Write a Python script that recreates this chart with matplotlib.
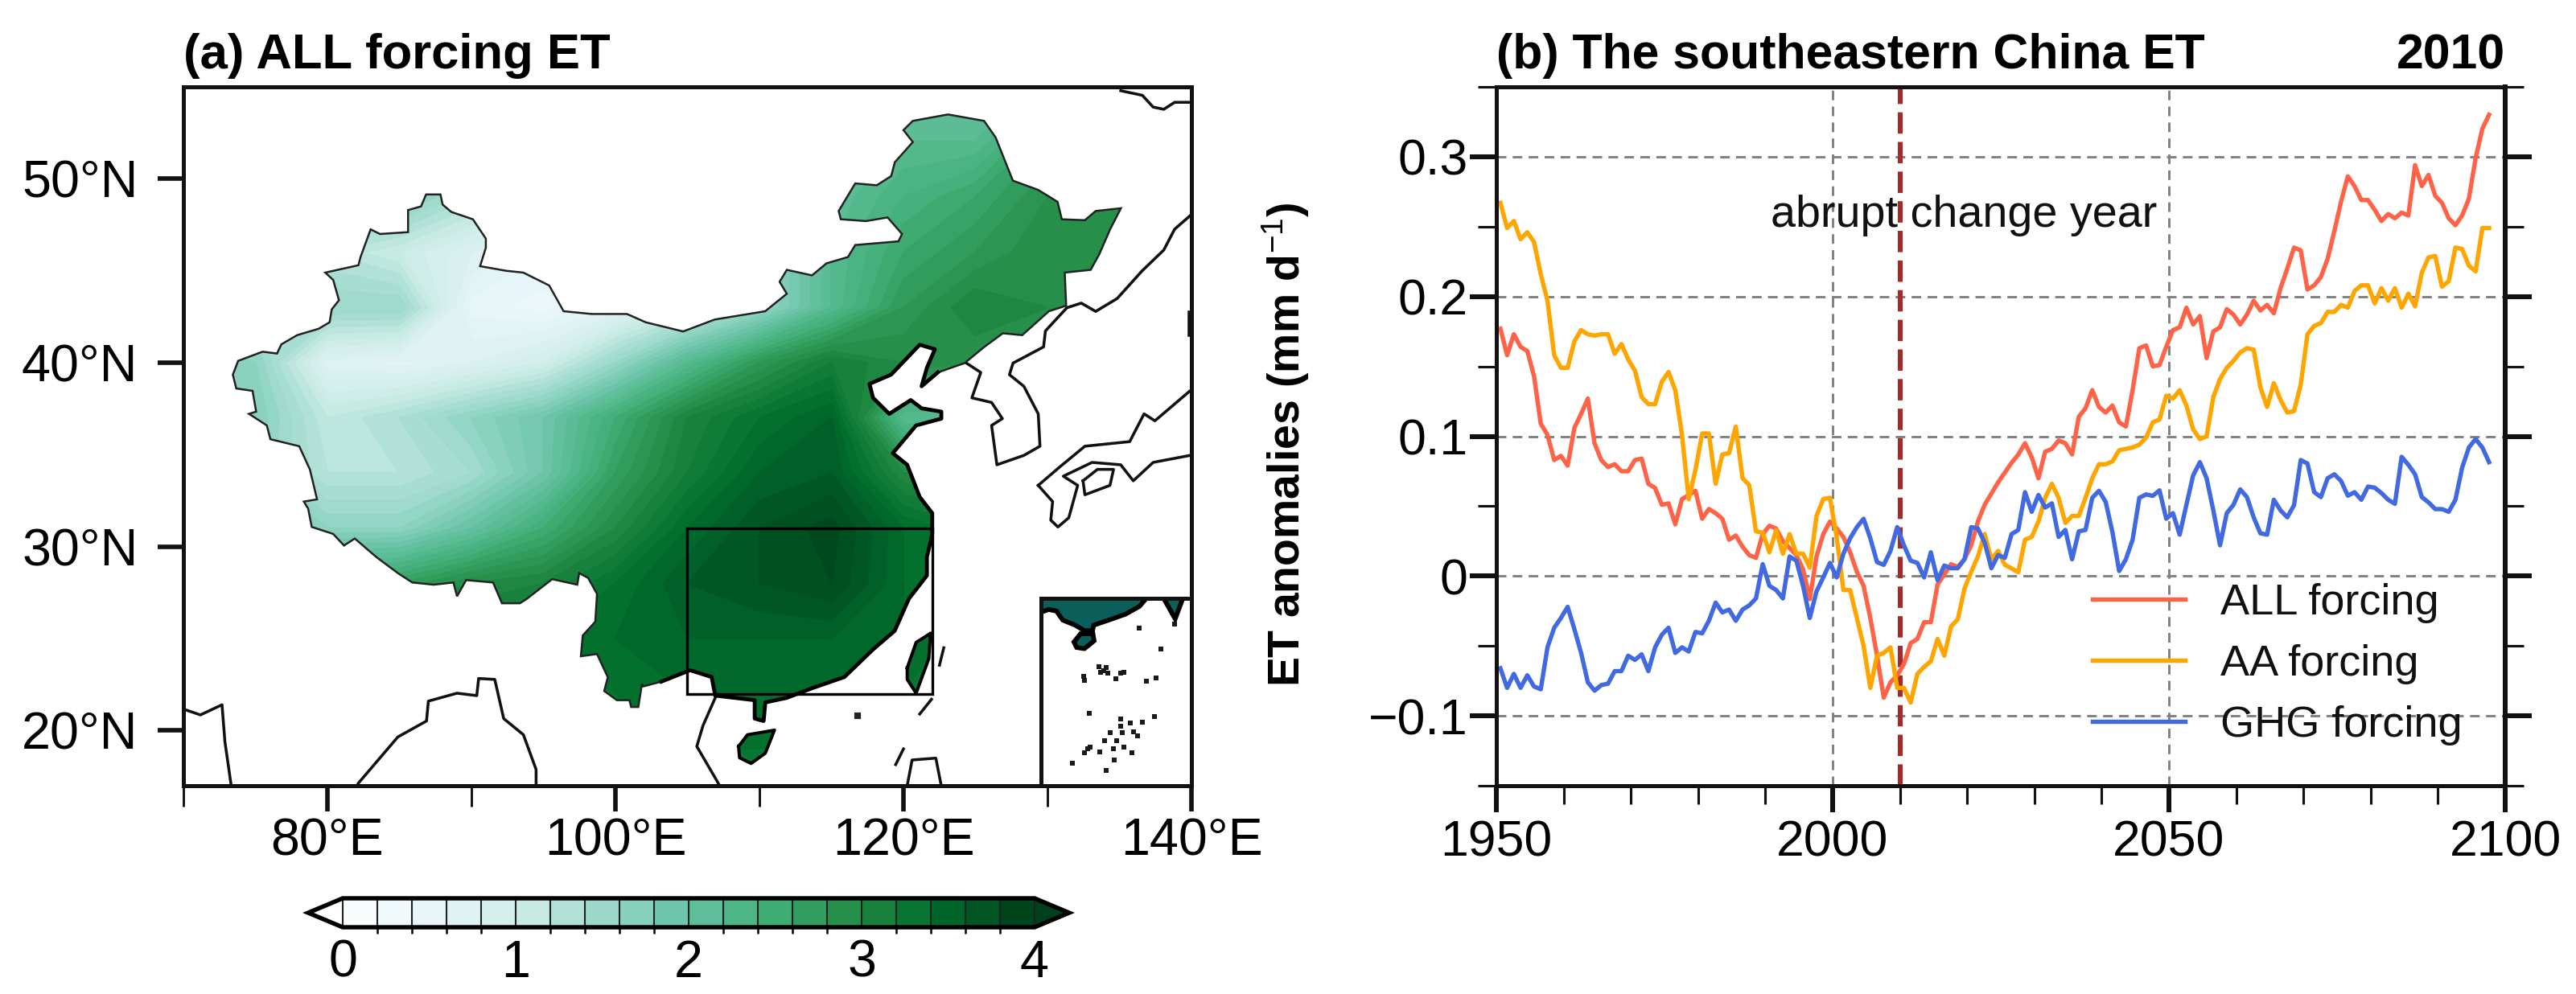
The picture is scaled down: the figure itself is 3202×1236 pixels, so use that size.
import numpy as np
import matplotlib
matplotlib.use('Agg')
import matplotlib.pyplot as plt
from matplotlib.cm import ScalarMappable
from matplotlib.colors import ListedColormap, BoundaryNorm, Normalize
from matplotlib.path import Path
from matplotlib.patches import PathPatch, Rectangle, Polygon
from matplotlib.ticker import MultipleLocator

plt.rcParams['font.family'] = ['Liberation Sans', 'DejaVu Sans']
plt.rcParams['mathtext.fontset'] = 'custom'
plt.rcParams['mathtext.rm'] = 'Liberation Sans'
plt.rcParams['mathtext.it'] = 'Liberation Sans'
plt.rcParams['mathtext.bf'] = 'Liberation Sans:bold'

# ---------- panel (b) data ----------
YEAR_START = 1950.6
ALL_FORCING = [.177,.158,.173,.164,.161,.143,.109,.101,.083,.086,.079,.106,.116,.127,.095,.083,.078,.080,.075,.075,
 .083,.084,.066,.063,.051,.052,.037,.055,.058,.061,.041,.048,.045,.041,.026,.029,.021,.015,.013,.030,
 .036,.034,.025,.020,.015,.005,-.0165,.014,.030,.039,.034,.028,.017,.003,-.007,-.030,-.057,-.087,-.076,-.071,
 -.063,-.048,-.045,-.033,-.033,-.006,.001,.0085,.0065,.012,.022,.039,.051,.059,.067,.074,.081,.087,.095,.085,
 .070,.089,.091,.097,.095,.087,.114,.120,.133,.121,.117,.122,.110,.107,.133,.163,.165,.150,.151,.164,
 .176,.178,.192,.180,.186,.156,.175,.178,.191,.187,.180,.187,.197,.190,.194,.188,.206,.220,.235,.233,
 .205,.208,.214,.227,.247,.268,.286,.279,.269,.269,.262,.254,.259,.256,.260,.258,.294,.279,.287,.272,
 .267,.256,.251,.258,.270,.299,.320,.330]
AA_FORCING = [.267,.249,.254,.241,.246,.239,.216,.197,.158,.149,.149,.168,.176,.173,.172,.173,.173,.159,.166,.155,
 .147,.128,.123,.123,.139,.146,.133,.101,.055,.076,.102,.102,.066,.087,.088,.107,.070,.065,.032,.031,
 .017,.033,.016,.030,.016,.016,.006,.043,.055,.056,.028,-.010,-.010,-.030,-.050,-.080,-.057,-.055,-.051,-.080,
 -.080,-.0905,-.070,-.065,-.061,-.045,-.057,-.036,-.031,-.009,.003,.014,.030,.012,.018,.008,.0055,.0027,.026,.028,
 .039,.056,.066,.056,.038,.043,.043,.056,.070,.080,.080,.082,.090,.091,.092,.094,.099,.110,.112,.129,
 .127,.133,.122,.105,.098,.100,.128,.141,.149,.154,.160,.163,.162,.135,.121,.138,.126,.117,.118,.137,
 .173,.179,.181,.189,.189,.194,.192,.204,.208,.208,.195,.206,.197,.206,.192,.202,.193,.217,.228,.229,
 .207,.211,.235,.234,.222,.218,.249,.249]
GHG_FORCING = [-.066,-.080,-.070,-.080,-.071,-.079,-.081,-.051,-.037,-.030,-.022,-.038,-.055,-.076,-.082,-.078,-.077,-.068,-.068,-.057,
 -.060,-.056,-.068,-.051,-.042,-.037,-.055,-.051,-.054,-.040,-.041,-.032,-.019,-.026,-.024,-.032,-.024,-.021,-.016,.0085,
 -.007,-.010,-.016,.014,.011,-.007,-.030,-.011,-.001,.0094,-.001,.016,.027,.035,.041,.027,.010,.008,.018,.035,
 .022,.011,.0094,-.001,.017,-.003,.0075,.0056,.0056,.012,.035,.034,.024,.0056,.015,.013,.030,.033,.060,.046,
 .058,.049,.052,.028,.033,.012,.032,.033,.056,.061,.053,.0315,.0036,.012,.026,.056,.0584,.0574,.0613,.041,
 .045,.0296,.051,.072,.0815,.070,.047,.022,.045,.051,.062,.0565,.042,.0306,.0296,.0546,.047,.042,.0507,.083,
 .0805,.060,.0565,.070,.0728,.068,.0575,.060,.0546,.064,.0632,.0594,.0546,.0517,.0853,.0796,.0728,.0565,.0527,.0479,
 .0479,.046,.0546,.0776,.092,.098,.092,.0815]
SERIES_LABELS = ['ALL forcing', 'AA forcing', 'GHG forcing']
SERIES_COLORS = ['#FF6347', '#FFA500', '#4169E1']
ABRUPT_YEAR = 2010
X_MAJOR = [1950, 2000, 2050, 2100]
Y_MAJOR = [-0.1, 0, 0.1, 0.2, 0.3]
Y_LABELS = ['\u22120.1', '0', '0.1', '0.2', '0.3']

# ---------- panel (a) data ----------
GRID_LON = [70,75,80,85,90,95,100,105,110,115,120,125,130,135]
GRID_LAT = [55,52,49,46,43,40,37,34,31,28,25,22,19,16]
ET_FIELD = [
 [1.8,1.8,1.8,1.9,2.0,1.8,1.6,1.8,2.0,2.1,2.1,2.0,2.3,2.6],
 [1.8,1.8,1.8,2.0,2.0,1.8,1.6,1.8,2.0,2.1,2.2,2.2,2.7,2.9],
 [1.7,1.7,1.6,1.7,1.3,1.0,1.2,1.6,1.9,2.1,2.4,2.6,2.9,3.0],
 [1.5,1.4,1.2,1.0,0.7,0.5,0.6,1.0,1.5,2.2,2.6,2.8,3.0,3.0],
 [1.5,1.4,1.5,1.5,0.45,0.35,0.6,1.0,1.5,2.2,2.8,3.1,3.0,2.9],
 [1.7,1.6,0.65,0.55,0.7,0.9,1.5,2.2,2.8,3.2,3.0,2.9,2.9,2.9],
 [1.8,1.7,1.1,1.3,1.6,1.9,2.5,3.1,3.4,3.6,2.2,2.2,2.2,2.2],
 [1.7,1.6,1.2,1.2,1.4,1.9,2.7,3.2,3.6,3.7,3.0,3.0,3.0,3.0],
 [2.0,1.9,1.6,1.6,2.0,2.5,3.0,3.5,3.8,3.95,3.5,3.3,3.3,3.3],
 [2.5,2.5,2.6,2.7,3.0,3.1,3.4,3.7,3.8,3.9,3.5,3.3,3.3,3.3],
 [3.3,3.3,3.3,3.3,3.3,3.4,3.5,3.6,3.6,3.6,3.5,3.3,3.3,3.3],
 [3.4,3.4,3.4,3.4,3.4,3.4,3.4,3.5,3.5,3.5,3.4,3.3,3.3,3.3],
 [3.4,3.4,3.4,3.4,3.4,3.4,3.4,3.4,3.4,3.4,3.3,3.3,3.3,3.3],
 [3.4,3.4,3.4,3.4,3.4,3.4,3.4,3.4,3.4,3.4,3.3,3.3,3.3,3.3],
]
ET_LEVELS = [round(0.2 * i, 1) for i in range(21)]
MAP_LEVELS = [round(0.1 * i, 1) for i in range(41)]
CBAR_TICKS = [0, 1, 2, 3, 4]

CHINA = [(73.43,39.35),(73.8,40.1),(75.5,40.6),(76.5,40.5),(76.8,41.0),(77.9,41.5),(79.4,41.85),(80.15,42.2),(80.3,42.9),(80.8,43.4),
 (80.4,44.5),(79.85,44.9),(82.15,45.3),(82.3,45.75),(83.0,47.25),(83.65,47.0),(85.6,47.1),(85.6,48.3),(86.5,48.5),(86.85,49.15),
 (87.85,49.15),(88.0,48.6),(88.6,48.2),(90.1,47.8),(91.0,46.75),(91.0,46.25),(90.6,45.25),(92.4,45.0),(93.6,44.9),(95.4,44.2),
 (96.4,42.8),(98.35,42.65),(100.8,42.65),(102.1,42.2),(104.7,41.7),(106.9,42.35),(110.4,42.8),(111.9,43.75),(111.4,44.4),(111.9,45.05),
 (113.65,44.75),(114.65,45.4),(116.15,45.75),(116.65,46.4),(119.65,46.6),(119.9,47.0),(118.9,47.9),(117.4,47.7),(115.65,47.8),(115.5,48.25),
 (116.65,49.75),(118.15,49.65),(119.15,50.15),(119.4,50.9),(120.65,52.0),(120.0,52.65),(120.65,53.15),(123.1,53.5),(125.6,53.15),(126.4,52.25),
 (127.6,49.9),(129.35,49.4),(130.7,48.75),(131.0,47.8),(132.6,47.75),(133.35,48.25),(135.1,48.4),(134.35,47.25),(133.6,45.9),(133.0,45.05),
 (131.2,44.9),(131.3,43.1),(130.1,42.8),(128.25,41.5),(126.9,41.6),(125.6,40.85),(124.25,39.98),
 (122.38,39.47),(121.26,38.72),(121.63,39.73),(122.18,40.73),(121.13,40.98),(119.14,39.35),(117.64,38.85),(117.89,38.09),(119.01,37.22),(120.51,37.97),
 (121.26,37.52),(122.63,37.34),(122.63,36.96),(120.88,36.59),(119.26,35.08),(120.26,34.45),(121.13,32.7),(122.0,31.82),(122.0,30.69),(121.63,29.43),
 (121.63,28.43),(120.38,27.17),(119.39,25.42),(117.89,24.41),(115.9,22.91),(113.65,22.3),(111.91,21.78),(110.41,21.53),(110.29,20.52),(109.67,20.65),
 (109.67,21.65),(106.93,21.9),(106.68,22.91),(105.18,23.28),(103.19,22.66),(101.94,22.4),
 (101.84,22.53),(101.59,21.28),(101.09,21.28),(100.97,21.65),(100.1,21.65),(99.22,22.15),(99.47,22.9),(98.72,24.16),(97.6,24.04),(97.73,25.17),
 (98.6,25.92),(98.72,27.43),(98.1,28.3),(97.48,28.56),(97.35,27.93),(95.61,28.23),(93.86,27.17),(93.37,26.92),(92.12,26.92),(91.5,28.05),
 (89.63,28.18),(89.0,27.3),(88.75,28.05),(87.38,27.93),(85.89,28.05),(84.89,28.56),(83.4,29.43),(81.9,30.44),(81.15,30.06),(80.4,30.69),
 (78.91,31.07),(78.66,32.07),(78.36,32.45),(79.28,32.57),(78.78,34.2),(78.04,35.46),(76.04,35.84),(75.79,36.59),(74.55,37.22),(75.05,37.34),
 (74.8,38.47),(73.67,38.6)]
HAINAN = [(108.55,19.14),(109.17,19.77),(111.04,20.02),(110.41,18.77),(109.42,18.21),(108.62,18.52)]
TAIWAN = [(120.26,23.41),(120.88,24.79),(121.88,25.29),(121.76,23.91),(120.88,22.03),(120.26,22.78)]
# index range of CHINA that is the heavy-drawn Bohai and southern coast
COAST_FROM, COAST_TO = 77, 112

OUTLINES = [
 [(124.37,39.98),(125.37,39.47),(124.75,38.09),(126.12,37.84),(126.87,36.96),(126.12,36.59),(126.49,34.45),(128.36,34.96),(129.48,35.46),(129.36,37.22),
  (128.36,38.72),(127.36,39.35),(127.61,39.98),(129.73,40.86),(129.86,41.73),(131.35,42.99),(132.35,43.24),(133.35,42.79),(134.84,43.49),(136.58,45.0),
  (138.08,46.13),(138.83,47.26),(140.5,48.4)],
 [(129.36,33.33),(130.85,34.33),(132.6,35.46),(135.71,35.71),(136.71,37.22),(137.46,36.84),(139.9,38.47),(141,37.9),(141,34.9),(139.9,34.96),
  (137.34,34.58),(135.96,33.58),(135.09,34.45),(133.1,34.58),(131.1,33.83),(132.1,33.33),(131.48,31.57),(130.73,31.07),(130.23,31.44),(130.36,32.45),(129.36,33.33)],
 [(132.47,33.58),(133.47,34.2),(134.59,34.2),(134.34,33.33),(132.6,32.82),(132.47,33.58)],
 [(135.09,54.79),(136.59,54.54),(137.34,53.9),(138.08,53.78),(138.83,54.16),(140.5,54.16)],
 [(139.83,42.74),(139.83,41.48)],
 [(106.93,21.78),(106.08,20.27),(105.65,19.14),(106.58,17.89),(107.05,17.26),(107.3,16.9)],
 [(69.5,21.2),(70.06,21.15),(71.18,20.85),(72.68,21.4),(72.88,19.4),(73.3,17.1),(73.3,16.8)],
 [(82.0,16.9),(82.15,17.14),(84.89,19.65),(86.88,20.52),(87.01,21.6),(89.0,22.03),(90.37,21.9),(90.5,22.83),(91.62,22.78),(92.24,20.65),
  (93.61,19.77),(94.49,17.88),(94.49,16.9)],
 [(120.2,16.8),(120.26,17.0),(120.6,18.4),(122.25,18.5),(122.6,17.1),(122.7,16.8)],
 [(122.5,23.55),(122.8,24.5)],
 [(121.13,20.9),(121.95,21.7)],
 [(119.46,18.15),(120.0,19.0)],
]
REGION_BOX = (105, 22, 17, 9)
MAP_XTICKS = [80, 100, 120, 140]
MAP_XLABELS = ['80°E', '100°E', '120°E', '140°E']
MAP_XMINOR = [70, 90, 110, 130]
MAP_YTICKS = [20, 30, 40, 50]
MAP_YLABELS = ['20°N', '30°N', '40°N', '50°N']

INSET_LAND = [(104.2,25.05),(104.2,23.25),(105.2,23.6),(106.2,23.4),(107.0,22.25),(108.6,21.6),(109.8,20.9),(110.85,20.9),(111.0,21.6),(113.1,22.3),
 (115.1,23.0),(116.9,24.0),(117.8,25.05)]
INSET_TAIWAN = [(120.0,25.05),(121.5,22.4),(122.5,25.05)]
INSET_HAINAN = [(108.45,19.45),(109.3,20.5),(110.9,20.5),(111.05,19.6),(109.8,18.6),(108.8,18.75)]
ISLET_LON = [116.9,119.7,121.4,111.7,112.3,111.9,112.6,112.8,109.7,109.8,113.8,114.5,114.9,117.8,119.0,110.4,118.8,114.5,114.5,114.7,
 115.7,116.1,116.6,117.3,113.1,112.4,114.0,113.5,114.9,115.9,110.2,110.5,109.8,111.8,108.3,112.6,113.6]
ISLET_LAT = [21.2,18.6,21.7,16.3,15.8,15.6,16.2,15.5,15.1,14.6,14.8,15.5,15.6,14.4,14.9,10.3,9.9,9.6,8.7,7.9,
 9.1,8.0,7.5,9.2,7.9,6.8,6.8,5.8,6.0,5.3,5.8,6.0,5.3,5.4,4.0,3.0,4.4]
MAIN_ISLET = (116.8, 20.8)

W, H = 3203, 1236
fig = plt.figure(figsize=(W / 300, H / 300), dpi=300)
def px_axes(x0, y0, x1, y1):
    return fig.add_axes([x0 / W, 1 - y1 / H, (x1 - x0) / W, (y1 - y0) / H])

INK = '#111111'
# ---------- map panel ----------
ax = px_axes(228, 108, 1481, 977)
ax.set_xlim(70, 140); ax.set_ylim(17, 55)
base = plt.get_cmap('BuGn')
cf = ax.contourf(GRID_LON, GRID_LAT, np.array(ET_FIELD), levels=MAP_LEVELS, cmap=base, norm=Normalize(0, 4))
cf.set_edgecolor('face'); cf.set_linewidth(0.3)
land = Path.make_compound_path(*[Path(np.array(p + p[:1]), closed=True) for p in (CHINA, HAINAN, TAIWAN)])
clip = PathPatch(land, transform=ax.transData, facecolor='none', edgecolor='#222222', lw=0.6, zorder=3)
ax.add_patch(clip)
cf.set_clip_path(clip)
coast = np.array(CHINA[COAST_FROM:COAST_TO])
ax.plot(coast[:, 0], coast[:, 1], color='black', lw=1.15, zorder=3)
for p in (HAINAN, TAIWAN):
    a = np.array(p + p[:1]); ax.plot(a[:, 0], a[:, 1], color='black', lw=0.95, zorder=3)
for o in OUTLINES:
    a = np.array(o); ax.plot(a[:, 0], a[:, 1], color='#111111', lw=0.85, zorder=2)
ax.plot(*MAIN_ISLET, 's', color='#222222', ms=1.0, zorder=3)
ax.add_patch(Rectangle(REGION_BOX[:2], REGION_BOX[2], REGION_BOX[3], fill=False, ec='black', lw=0.8, zorder=4))
ax.set_xticks(MAP_XTICKS, MAP_XLABELS); ax.set_xticks(MAP_XMINOR, minor=True)
ax.set_yticks(MAP_YTICKS, MAP_YLABELS)
ax.tick_params(axis='both', which='major', length=7.6, width=1.35, labelsize=15.5, color=INK, pad=2)
ax.tick_params(axis='y', pad=6)
ax.tick_params(axis='x', which='minor', length=6.3, width=0.7, color=INK)
ax.set_title('(a) ALL forcing ET', loc='left', fontsize=14.8, fontweight='bold', pad=5.5)
for s in ax.spines.values():
    s.set_linewidth(1.2); s.set_color(INK); s.set_zorder(6)

ins = ax.inset_axes([129.55, 17, 10.45, 10.2], transform=ax.transData, zorder=5)
ins.set_xlim(104.2, 123.6); ins.set_ylim(1.1, 25.05)
ins.set_xticks([]); ins.set_yticks([])
for poly in (INSET_LAND, INSET_TAIWAN, INSET_HAINAN):
    ins.add_patch(Polygon(poly, closed=True, fc='#0B5E5A', ec='black', lw=1.4))
ins.scatter(ISLET_LON, ISLET_LAT, s=2.2, marker='s', color='#1a1a1a', linewidths=0)
for s in ins.spines.values():
    s.set_linewidth(1.2); s.set_color(INK)
ins.spines['bottom'].set_visible(False)

# ---------- colour bar ----------
cmap = ListedColormap(base(np.linspace(0, 1, 20)))
cmap.set_under('white'); cmap.set_over('#00401c')
sm = ScalarMappable(norm=BoundaryNorm(ET_LEVELS, 20), cmap=cmap)
cax = px_axes(383, 1117, 1329, 1153)
cb = fig.colorbar(sm, cax=cax, orientation='horizontal', extend='both', extendfrac=0.05,
                  ticks=CBAR_TICKS, drawedges=True, spacing='proportional', boundaries=[-0.2] + ET_LEVELS + [4.2])
cb.outline.set_linewidth(1.3); cb.outline.set_edgecolor('black')
cb.dividers.set_linewidth(0.5); cb.dividers.set_color('#222222')
cb.ax.tick_params(length=0, labelsize=15.5, pad=3.5)
cb.set_ticklabels(['0', '1', '2', '3', '4'])

# ---------- time series panel ----------
bx = px_axes(1860, 108, 3114, 977)
years = YEAR_START + np.arange(len(ALL_FORCING))
bx.set_xlim(1950, 2100); bx.set_ylim(-0.15, 0.35)
bx.set_axisbelow(True)
bx.axvline(ABRUPT_YEAR, color='#A52A2A', lw=1.45, ls=(0, (4.4, 1.7)), zorder=1.5)
for vals, lab, col in zip((ALL_FORCING, AA_FORCING, GHG_FORCING), SERIES_LABELS, SERIES_COLORS):
    bx.plot(years, vals, color=col, lw=1.3, label=lab, zorder=2)
bx.set_xticks(X_MAJOR); bx.xaxis.set_minor_locator(MultipleLocator(10))
bx.set_yticks(Y_MAJOR, Y_LABELS); bx.yaxis.set_minor_locator(MultipleLocator(0.05))
bx.tick_params(axis='both', which='major', length=8, width=1.45, labelsize=15, color=INK)
bx.tick_params(axis='both', which='minor', length=5.6, width=0.75, color=INK)
bx.tick_params(axis='y', which='both', right=True, pad=0.5)
bx.tick_params(axis='x', pad=2)
bx.grid(True, which='major', color='#808080', lw=0.7, ls=(0, (4.1, 2.7)))
bx.set_ylabel(r'ET anomalies (mm d$^{-1}$)', fontsize=13.3, fontweight='bold', labelpad=17, y=0.488)
bx.set_title('(b) The southeastern China ET', loc='left', fontsize=14.6, fontweight='bold', pad=5.5)
bx.set_title('2010', loc='right', fontsize=14.6, fontweight='bold', pad=5.5)
bx.text((2441 - 1860) / 1254, (977 - 282) / 869, 'abrupt change year', transform=bx.transAxes,
        ha='center', va='baseline', fontsize=13.4, color='#111111', zorder=3)
leg = bx.legend(loc='lower left', bbox_to_anchor=(0.591, 0.058), frameon=False, fontsize=13, handlelength=2.13,
                handletextpad=0.8, labelspacing=0.48, borderpad=0, borderaxespad=0)
for t in leg.get_texts():
    t.set_color('#111111')
for s in bx.spines.values():
    s.set_linewidth(1.2); s.set_color(INK)
bx.spines['right'].set_linewidth(1.45)

fig.savefig('out.png', dpi=300)
